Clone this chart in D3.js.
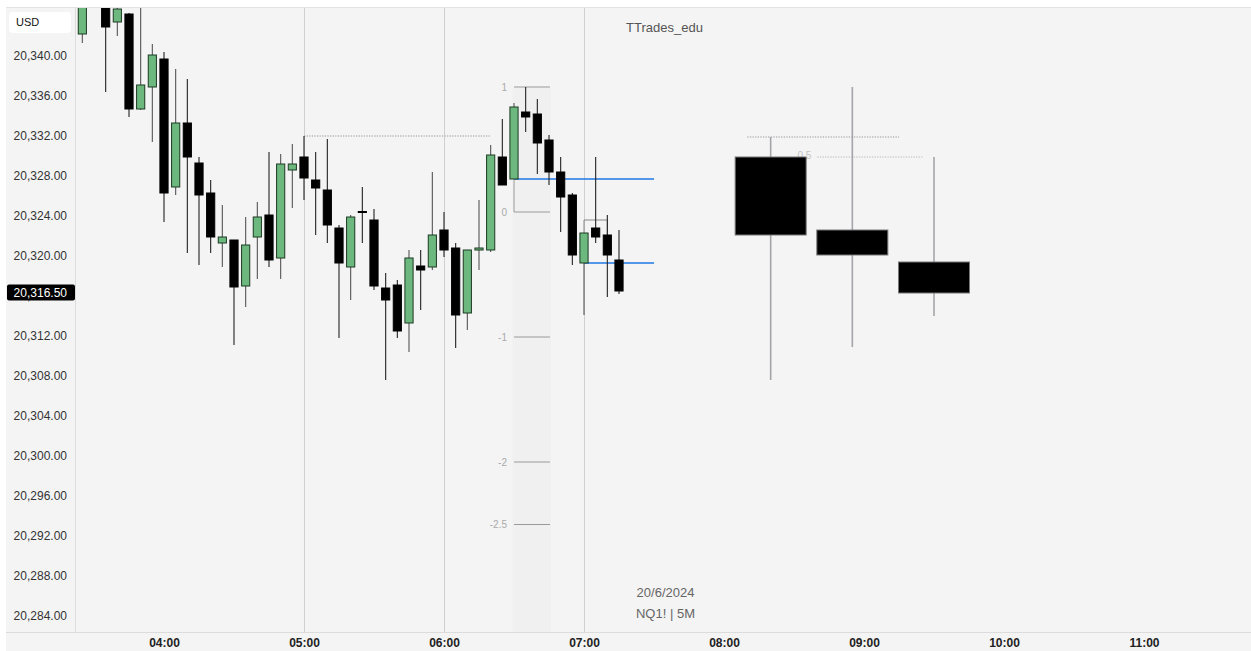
<!DOCTYPE html>
<html><head><meta charset="utf-8">
<script src="https://cdn.jsdelivr.net/npm/d3@7"></script>
<style>
html,body{margin:0;padding:0;background:#fff;}
svg{display:block;font-family:"Liberation Sans",Arial,sans-serif;}
</style></head><body>
<svg id="chart" width="1251" height="651"></svg>
<script>
// ---- data (5-minute candles, NQ1!) ----
const times = ["03:25","03:35","03:40","03:45","03:50","03:55","04:00","04:05","04:10","04:15","04:20","04:25","04:30","04:35","04:40","04:45","04:50","04:55","05:00","05:05","05:10","05:15","05:20","05:25","05:30","05:35","05:40","05:45","05:50","05:55","06:00","06:05","06:10","06:15","06:20","06:25","06:30","06:35","06:40","06:45","06:50","06:55","07:00","07:05","07:10","07:15"];
const opens  = [20342.2,20346.0,20343.4,20344.2,20334.7,20336.9,20339.7,20326.9,20333.3,20329.3,20326.3,20321.3,20321.6,20317.0,20321.9,20324.1,20319.8,20328.6,20329.9,20327.6,20326.6,20322.8,20318.9,20324.45,20323.6,20316.8,20317.1,20313.3,20319.0,20318.9,20322.6,20320.8,20314.3,20320.6,20320.6,20329.9,20327.7,20334.4,20334.2,20331.6,20328.4,20326.1,20319.3,20322.8,20322.1,20319.6];
const highs  = [20347.0,20347.0,20345.2,20344.3,20346.0,20341.2,20340.4,20338.7,20337.7,20329.9,20327.6,20325.1,20321.6,20323.9,20325.4,20330.4,20330.2,20331.2,20332.0,20330.4,20331.7,20323.1,20324.1,20326.9,20324.7,20318.3,20317.6,20320.6,20320.6,20328.4,20324.4,20321.3,20320.6,20325.6,20331.1,20333.7,20335.3,20336.9,20335.7,20332.1,20329.9,20326.3,20322.3,20329.9,20324.1,20322.6];
const lows   = [20341.3,20336.4,20342.0,20333.9,20334.6,20331.4,20323.4,20326.1,20320.3,20319.1,20320.3,20318.9,20311.1,20314.9,20317.7,20318.9,20317.7,20324.8,20325.6,20322.1,20321.3,20311.8,20315.6,20321.3,20316.6,20307.6,20311.8,20310.4,20314.6,20318.6,20319.9,20310.8,20312.6,20318.6,20320.4,20327.1,20327.7,20332.4,20328.2,20327.1,20322.4,20319.1,20314.1,20321.3,20315.9,20316.2];
const closes = [20346.5,20342.9,20344.7,20334.7,20337.1,20340.1,20326.3,20333.3,20329.9,20326.1,20321.9,20321.9,20316.9,20321.1,20323.9,20319.6,20329.2,20329.2,20327.8,20326.8,20323.1,20319.3,20323.9,20324.35,20317.0,20315.6,20312.5,20319.8,20318.6,20322.1,20320.6,20314.1,20320.6,20320.8,20330.1,20327.1,20334.9,20333.9,20331.3,20328.4,20325.9,20320.1,20322.3,20321.9,20320.1,20316.5];

// ---- hourly candles projected to the right ----
const htfTimes = ["08:20","08:55","09:30"];
const htfOpen  = [20329.9,20322.6,20319.4];
const htfHigh  = [20331.9,20336.9,20329.9];
const htfLow   = [20307.6,20310.9,20314.0];
const htfClose = [20322.1,20320.1,20316.3];

// ---- axis ticks ----
const yTickValues = [20284,20288,20292,20296,20300,20304,20308,20312,20316,20320,20324,20328,20332,20336,20340];
const xTickLabels = ["04:00","05:00","06:00","07:00","08:00","09:00","10:00","11:00"];
const sessionLines = ["05:00","06:00","07:00"];

// ---- fib tool ----
const fibLevels = [1,0,-1,-2,-2.5];
const fibLabels = ["1","0","-1","-2","-2.5"];
const fibOne = 20336.9, fibZero = 20324.4;
const fibStart = "06:30", fibEnd = "06:45";

// ---- horizontal levels ----
const dottedLevels = [20332.0, 20331.9];
const dottedFrom   = ["05:00","08:10"];
const dottedTo     = ["06:20","09:15"];
const halfLevel = 20329.9, halfFrom = "08:40", halfTo = "09:25";
const blueLevels = [20327.7, 20319.3];
const blueFrom   = ["06:30","07:00"];
const blueTo     = ["07:30","07:30"];
const lastPrice = 20316.5;

// ---- layout ----
const W = 1251, H = 651;
const L = 75, T = 7, B = 632, R = 1251;
const svg = d3.select("#chart");
const tp = s => new Date(Date.UTC(2024,5,20,+s.slice(0,2),+s.slice(3)));
const x = d3.scaleUtc().domain([tp("04:00"), tp("11:00")]).range([164, 1144]);
const y = d3.scaleLinear().domain([20340, 20284]).range([56, 616]);

svg.append("rect").attr("x",6).attr("y",T).attr("width",W-6).attr("height",H-T).attr("fill","#f4f4f4");
svg.append("line").attr("x1",6).attr("x2",W).attr("y1",T+0.5).attr("y2",T+0.5).attr("stroke","#e3e3e3");

svg.append("clipPath").attr("id","plot").append("rect")
  .attr("x",L).attr("y",T+1).attr("width",R-L).attr("height",B-T-1);
const g = svg.append("g").attr("clip-path","url(#plot)");

// fib shaded band
g.append("rect").attr("x",x(tp(fibStart))-1.5).attr("y",y(fibOne))
  .attr("width",x(tp(fibEnd))-x(tp(fibStart))+3.5).attr("height",B-y(fibOne)).attr("fill","#f0f0f0");

// session separators
g.selectAll(".sess").data(sessionLines).enter().append("line")
  .attr("x1",d=>Math.round(x(tp(d)))+0.5).attr("x2",d=>Math.round(x(tp(d)))+0.5)
  .attr("y1",T).attr("y2",B).attr("stroke","#cfcfcf").attr("stroke-width",1);

// fib levels
const fibPrice = v => fibZero + v*(fibOne-fibZero);
g.selectAll(".fib").data(fibLevels).enter().append("line")
  .attr("x1",x(tp(fibStart))).attr("x2",x(tp(fibEnd))+1)
  .attr("y1",d=>y(fibPrice(d))).attr("y2",d=>y(fibPrice(d)))
  .attr("stroke","#9a9a9a").attr("stroke-width",1);
g.selectAll(".fibt").data(fibLevels).enter().append("text")
  .attr("x",x(tp(fibStart))-7).attr("y",d=>y(fibPrice(d)))
  .attr("dy","0.35em").attr("text-anchor","end").attr("font-size",10).attr("fill","#aaa")
  .text((d,i)=>fibLabels[i]);
g.append("line").attr("x1",x(tp(fibStart))).attr("x2",x(tp(fibStart)))
  .attr("y1",y(blueLevels[0])).attr("y2",y(fibZero)).attr("stroke","#9a9a9a");

// dotted lines
g.selectAll(".dot").data(dottedLevels).enter().append("line")
  .attr("x1",(d,i)=>x(tp(dottedFrom[i]))).attr("x2",(d,i)=>x(tp(dottedTo[i])))
  .attr("y1",d=>y(d)).attr("y2",d=>y(d))
  .attr("stroke","#999").attr("stroke-dasharray","1.3,1.3").attr("stroke-width",1);
g.append("line").attr("x1",x(tp(halfFrom))).attr("x2",x(tp(halfTo)))
  .attr("y1",y(halfLevel)).attr("y2",y(halfLevel))
  .attr("stroke","#bbb").attr("stroke-dasharray","1.3,1.3");
g.append("text").attr("x",x(tp(halfFrom))-6).attr("y",y(halfLevel)-1).attr("dy","0.3em")
  .attr("text-anchor","end").attr("font-size",10).attr("fill","#c4c4c4").text("0.5");

// blue levels
g.selectAll(".blue").data(blueLevels).enter().append("line")
  .attr("x1",(d,i)=>x(tp(blueFrom[i]))).attr("x2",(d,i)=>x(tp(blueTo[i])))
  .attr("y1",d=>y(d)).attr("y2",d=>y(d))
  .attr("stroke","#1f78e6").attr("stroke-width",1.6);

// small bracket
g.append("path")
  .attr("d",`M${x(tp("07:00"))},${y(20322.3)}V${y(20323.6)}H${x(tp("07:10"))}V${y(20322.1)}`)
  .attr("fill","none").attr("stroke","#888").attr("stroke-width",1);

// 5-minute candles
const bw = (x(tp("04:05"))-x(tp("04:00")))*0.7;
const cd = times.map((t,i)=>({t:tp(t),o:opens[i],h:highs[i],l:lows[i],c:closes[i]}));
const cg = g.selectAll(".c").data(cd).enter().append("g");
cg.append("line").attr("x1",d=>x(d.t)).attr("x2",d=>x(d.t))
  .attr("y1",d=>y(d.h)).attr("y2",d=>y(d.l))
  .attr("stroke",d=>d.c>=d.o?"#555":"#222").attr("stroke-width",1.1);
cg.append("rect").attr("x",d=>x(d.t)-bw/2).attr("width",bw)
  .attr("y",d=>y(Math.max(d.o,d.c)))
  .attr("height",d=>Math.max(1,Math.abs(y(d.o)-y(d.c))))
  .attr("fill",d=>d.c>=d.o?"#6db87e":"#000")
  .attr("stroke",d=>d.c>=d.o?"#1c3a22":"#000").attr("stroke-width",1);

// hourly candles
const hbw = 71;
const hd = htfTimes.map((t,i)=>({t:tp(t),o:htfOpen[i],h:htfHigh[i],l:htfLow[i],c:htfClose[i]}));
const hg = g.selectAll(".h").data(hd).enter().append("g");
hg.append("line").attr("x1",d=>x(d.t)).attr("x2",d=>x(d.t))
  .attr("y1",d=>y(d.h)).attr("y2",d=>y(d.l))
  .attr("stroke","#a4a4aa").attr("stroke-width",1.6);
hg.append("rect").attr("x",d=>x(d.t)-hbw/2).attr("width",hbw)
  .attr("y",d=>y(Math.max(d.o,d.c)))
  .attr("height",d=>Math.abs(y(d.o)-y(d.c)))
  .attr("fill","#000").attr("stroke","#777").attr("stroke-width",1);

// texts
g.append("text").attr("x",664.5).attr("y",27).attr("dy","0.35em").attr("text-anchor","middle")
  .attr("font-size",13).attr("fill","#555").text("TTrades_edu");
g.append("text").attr("x",665.5).attr("y",592).attr("dy","0.35em").attr("text-anchor","middle")
  .attr("font-size",13).attr("fill","#666").text("20/6/2024");
g.append("text").attr("x",665.5).attr("y",613).attr("dy","0.35em").attr("text-anchor","middle")
  .attr("font-size",13).attr("fill","#666").text("NQ1! | 5M");

// borders
svg.append("line").attr("x1",L+0.5).attr("x2",L+0.5).attr("y1",T).attr("y2",B).attr("stroke","#dcdcdc");
svg.append("line").attr("x1",6).attr("x2",W).attr("y1",B+0.5).attr("y2",B+0.5).attr("stroke","#dcdcdc");

// y axis
const ya = svg.append("g").attr("transform",`translate(${L},0)`)
  .call(d3.axisLeft(y).tickValues(yTickValues).tickFormat(d3.format(",.2f")).tickSize(0).tickPadding(8));
ya.select(".domain").remove();
ya.selectAll("text").attr("font-size",12).attr("fill","#333").attr("font-family","Liberation Sans, Arial, sans-serif");

// x axis
const xa = svg.append("g").attr("transform",`translate(0,${B})`)
  .call(d3.axisBottom(x).tickValues(xTickLabels.map(tp)).tickFormat(d3.utcFormat("%H:%M")).tickSize(0).tickPadding(6));
xa.select(".domain").remove();
xa.selectAll("text").attr("font-size",12).attr("font-weight","bold").attr("fill","#222").attr("font-family","Liberation Sans, Arial, sans-serif");

// USD box
svg.append("rect").attr("x",9).attr("y",12).attr("width",62).attr("height",21).attr("rx",4).attr("fill","#fff");
svg.append("text").attr("x",16).attr("y",22.5).attr("dy","0.35em").attr("font-size",11).attr("fill","#111").text("USD");

// last price label
const ly = y(lastPrice);
svg.append("rect").attr("x",7).attr("y",ly-6.5).attr("width",68).attr("height",16).attr("rx",2).attr("fill","#000");
svg.append("text").attr("x",L-8).attr("y",ly+1.5).attr("dy","0.35em").attr("text-anchor","end")
  .attr("font-size",12).attr("fill","#fff").text(d3.format(",.2f")(lastPrice));
</script>
</body></html>
